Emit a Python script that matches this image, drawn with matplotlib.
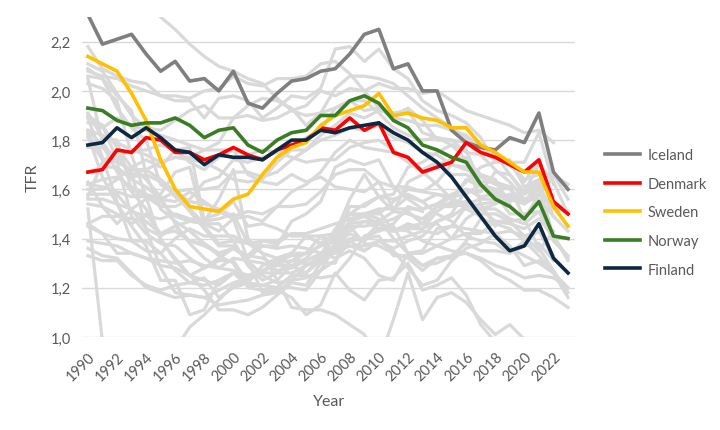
import numpy as np
import matplotlib.pyplot as plt

years = list(range(1990, 2024))
N = None

# highlighted Nordic countries
iceland = [2.31, 2.19, 2.21, 2.23, 2.15, 2.08, 2.12, 2.04, 2.05, 2.00, 2.08, 1.95, 1.93, 1.99, 2.04, 2.05, 2.08, 2.09,
           2.15, 2.23, 2.25, 2.09, 2.11, 2.00, 2.00, 1.84, 1.79, 1.77, 1.76, 1.81, 1.79, 1.91, 1.67, 1.60]
denmark = [1.67, 1.68, 1.76, 1.75, 1.81, 1.80, 1.75, 1.75, 1.72, 1.74, 1.77, 1.74, 1.72, 1.76, 1.78, 1.80, 1.85, 1.84,
           1.89, 1.84, 1.87, 1.75, 1.73, 1.67, 1.69, 1.71, 1.79, 1.75, 1.73, 1.70, 1.67, 1.72, 1.55, 1.50]
sweden = [2.14, 2.11, 2.08, 1.99, 1.88, 1.72, 1.60, 1.53, 1.52, 1.51, 1.56, 1.58, 1.66, 1.73, 1.77, 1.79, 1.86, 1.90,
          1.92, 1.94, 1.99, 1.90, 1.91, 1.89, 1.88, 1.85, 1.85, 1.78, 1.75, 1.71, 1.67, 1.67, 1.53, 1.45]
norway = [1.93, 1.92, 1.88, 1.86, 1.87, 1.87, 1.89, 1.86, 1.81, 1.84, 1.85, 1.78, 1.75, 1.80, 1.83, 1.84, 1.90, 1.90,
          1.96, 1.98, 1.95, 1.88, 1.85, 1.78, 1.76, 1.73, 1.71, 1.62, 1.56, 1.53, 1.48, 1.55, 1.41, 1.40]
finland = [1.78, 1.79, 1.85, 1.81, 1.85, 1.81, 1.76, 1.75, 1.70, 1.74, 1.73, 1.73, 1.72, 1.76, 1.80, 1.80, 1.84, 1.83,
           1.85, 1.86, 1.87, 1.83, 1.80, 1.75, 1.71, 1.65, 1.57, 1.49, 1.41, 1.35, 1.37, 1.46, 1.32, 1.26]

# other countries (background)
austria = [1.46, 1.49, 1.49, 1.48, 1.47, 1.42, 1.45, 1.39, 1.37, 1.34, 1.36, 1.33, 1.39, 1.38, 1.42, 1.41, 1.41, 1.38,
           1.42, 1.39, 1.44, 1.43, 1.44, 1.44, 1.47, 1.49, 1.53, 1.52, 1.47, 1.46, 1.44, 1.48, 1.41, 1.32]
belgium = [1.62, 1.64, 1.65, 1.61, 1.58, 1.56, 1.59, 1.60, 1.60, 1.61, 1.67, 1.67, 1.65, 1.67, 1.72, 1.76, 1.80, 1.82,
           1.85, 1.84, 1.86, 1.81, 1.79, 1.75, 1.74, 1.70, 1.68, 1.65, 1.62, 1.60, 1.55, 1.60, 1.53, N]
bulgaria = [1.82, 1.65, 1.54, 1.45, 1.37, 1.23, 1.23, 1.09, 1.11, 1.23, 1.26, 1.21, 1.21, 1.23, 1.29, 1.32, 1.38, 1.42,
            1.56, 1.66, 1.57, 1.51, 1.50, 1.48, 1.53, 1.53, 1.54, 1.56, 1.56, 1.58, 1.56, 1.58, 1.65, N]
croatia = [1.63, 1.53, 1.46, 1.52, 1.56, 1.58, 1.67, 1.69, 1.45, 1.38, 1.39, 1.38, 1.34, 1.32, 1.34, 1.41, 1.38, 1.40,
           1.47, 1.49, 1.46, 1.48, 1.51, 1.46, 1.46, 1.40, 1.42, 1.42, 1.47, 1.47, 1.48, 1.58, 1.53, N]
czechia = [1.90, 1.86, 1.72, 1.67, 1.44, 1.28, 1.18, 1.17, 1.16, 1.13, 1.14, 1.15, 1.17, 1.18, 1.23, 1.29, 1.33, 1.44,
           1.50, 1.49, 1.51, 1.43, 1.45, 1.46, 1.53, 1.57, 1.63, 1.69, 1.71, 1.71, 1.71, 1.83, 1.62, N]
estonia = [2.05, 1.79, 1.71, 1.49, 1.42, 1.38, 1.37, 1.32, 1.28, 1.32, 1.36, 1.32, 1.37, 1.37, 1.47, 1.50, 1.55, 1.69,
           1.72, 1.70, 1.72, 1.61, 1.56, 1.52, 1.54, 1.58, 1.60, 1.59, 1.67, 1.66, 1.58, 1.61, 1.41, 1.31]
france = [1.77, 1.77, 1.73, 1.66, 1.68, 1.71, 1.73, 1.73, 1.76, 1.79, 1.89, 1.90, 1.88, 1.89, 1.92, 1.94, 2.00, 1.98,
          2.01, 2.00, 2.03, 2.01, 2.01, 1.99, 2.00, 1.96, 1.92, 1.90, 1.88, 1.86, 1.83, 1.84, 1.79, N]
germany_w = [1.45, 1.42, 1.40, 1.39, 1.35, 1.34, 1.40, 1.44, 1.41, 1.41, 1.41, 1.38, 1.37, 1.36, 1.37, 1.36, 1.34, 1.37,
             1.37, 1.35, 1.39, 1.36, 1.39, 1.41, 1.47, 1.50, 1.60, 1.57, 1.58, 1.56, 1.54, 1.58, N, N]
germany_e = [1.52, 0.98, 0.83, 0.77, 0.77, 0.84, 0.95, 1.04, 1.09, 1.15, 1.21, 1.23, 1.26, 1.26, 1.31, 1.30, 1.30, 1.37,
             1.40, 1.40, 1.46, 1.43, 1.46, 1.44, 1.51, 1.55, 1.64, 1.61, 1.60, 1.56, 1.55, 1.58, N, N]
greece = [1.39, 1.38, 1.37, 1.34, 1.32, 1.31, 1.30, 1.31, 1.29, 1.28, 1.27, 1.25, 1.27, 1.30, 1.31, 1.34, 1.41, 1.42,
          1.50, 1.50, 1.48, 1.40, 1.34, 1.29, 1.30, 1.33, 1.38, 1.35, 1.35, 1.34, 1.39, 1.43, 1.32, 1.26]
hungary = [1.87, 1.86, 1.77, 1.69, 1.64, 1.57, 1.46, 1.38, 1.32, 1.28, 1.32, 1.31, 1.30, 1.27, 1.28, 1.31, 1.34, 1.32,
           1.35, 1.32, 1.25, 1.23, 1.34, 1.35, 1.44, 1.45, 1.53, 1.54, 1.55, 1.55, 1.59, 1.61, 1.52, 1.51]
ireland = [2.11, 2.08, 1.99, 1.90, 1.85, 1.84, 1.88, 1.92, 1.94, 1.89, 1.89, 1.94, 1.97, 1.96, 1.93, 1.86, 1.91, 2.01,
           2.06, 2.06, 2.05, 2.03, 1.98, 1.93, 1.89, 1.85, 1.81, 1.77, 1.75, 1.70, 1.63, 1.72, 1.54, 1.50]
italy = [1.33, 1.31, 1.31, 1.25, 1.21, 1.19, 1.21, 1.22, 1.21, 1.23, 1.26, 1.25, 1.27, 1.29, 1.34, 1.34, 1.37, 1.40,
         1.45, 1.45, 1.46, 1.44, 1.43, 1.39, 1.37, 1.35, 1.34, 1.32, 1.29, 1.27, 1.24, 1.25, 1.24, 1.20]
lithuania = [2.03, 2.01, 1.96, 1.74, 1.57, 1.55, 1.49, 1.47, 1.46, 1.46, 1.39, 1.29, 1.23, 1.26, 1.26, 1.29, 1.32, 1.36,
             1.47, 1.50, 1.50, 1.55, 1.60, 1.59, 1.63, 1.70, 1.69, 1.63, 1.63, 1.61, 1.48, 1.36, 1.27, 1.18]
luxembourg = [1.60, 1.60, 1.64, 1.69, 1.72, 1.69, 1.76, 1.71, 1.68, 1.73, 1.76, 1.66, 1.63, 1.62, 1.66, 1.63, 1.65, 1.61,
              1.60, 1.59, 1.63, 1.52, 1.57, 1.55, 1.50, 1.47, 1.41, 1.39, 1.38, 1.34, 1.37, 1.38, 1.31, N]
netherlands = [1.62, 1.61, 1.59, 1.57, 1.57, 1.53, 1.53, 1.56, 1.63, 1.65, 1.72, 1.71, 1.73, 1.75, 1.73, 1.71, 1.72, 1.72,
               1.77, 1.79, 1.80, 1.76, 1.72, 1.68, 1.71, 1.66, 1.66, 1.62, 1.59, 1.57, 1.55, 1.62, 1.49, 1.43]
poland = [2.06, 2.05, 1.93, 1.85, 1.80, 1.62, 1.58, 1.51, 1.44, 1.37, 1.37, 1.31, 1.25, 1.22, 1.23, 1.24, 1.27, 1.31,
          1.39, 1.40, 1.41, 1.33, 1.33, 1.29, 1.32, 1.32, 1.39, 1.48, 1.46, 1.44, 1.39, 1.33, 1.26, 1.16]
portugal = [1.56, 1.56, 1.54, 1.52, 1.44, 1.41, 1.45, 1.47, 1.48, 1.50, 1.55, 1.45, 1.46, 1.44, 1.41, 1.41, 1.38, 1.35,
            1.39, 1.35, 1.39, 1.35, 1.28, 1.21, 1.23, 1.31, 1.36, 1.38, 1.42, 1.43, 1.41, 1.35, 1.43, N]
slovakia = [2.09, 2.05, 1.98, 1.92, 1.66, 1.52, 1.47, 1.43, 1.38, 1.33, 1.30, 1.20, 1.19, 1.20, 1.25, 1.25, 1.24, 1.25,
            1.32, 1.41, 1.43, 1.45, 1.34, 1.34, 1.37, 1.40, 1.48, 1.52, 1.54, 1.57, 1.59, 1.63, 1.57, N]
slovenia = [1.46, 1.42, 1.34, 1.34, 1.32, 1.29, 1.28, 1.25, 1.23, 1.21, 1.26, 1.21, 1.21, 1.20, 1.25, 1.26, 1.31, 1.38,
            1.53, 1.53, 1.57, 1.56, 1.58, 1.55, 1.58, 1.57, 1.58, 1.62, 1.60, 1.61, 1.59, 1.64, 1.55, 1.51]
spain = [1.36, 1.33, 1.32, 1.26, 1.20, 1.18, 1.16, 1.17, 1.16, 1.19, 1.22, 1.24, 1.26, 1.31, 1.33, 1.34, 1.37, 1.39,
         1.45, 1.38, 1.37, 1.34, 1.32, 1.27, 1.32, 1.33, 1.34, 1.31, 1.26, 1.23, 1.19, 1.19, 1.16, 1.12]
switzerland = [1.58, 1.58, 1.58, 1.51, 1.49, 1.48, 1.50, 1.48, 1.47, 1.48, 1.50, 1.38, 1.39, 1.39, 1.42, 1.42, 1.44, 1.46,
               1.48, 1.50, 1.52, 1.52, 1.52, 1.52, 1.54, 1.54, 1.55, 1.52, 1.52, 1.48, 1.46, 1.51, 1.39, 1.33]
uk = [1.84, 1.82, 1.79, 1.76, 1.74, 1.71, 1.73, 1.72, 1.71, 1.68, 1.64, 1.63, 1.64, 1.71, 1.76, 1.76, 1.82, 1.86,
      1.91, 1.89, 1.92, 1.91, 1.92, 1.83, 1.81, 1.80, 1.79, 1.74, 1.68, 1.63, 1.56, 1.56, 1.49, N]
scotland = [1.67, 1.69, 1.69, 1.64, 1.61, 1.56, 1.55, 1.59, 1.55, 1.51, 1.48, 1.49, 1.47, 1.53, 1.59, 1.62, 1.67, 1.75,
            1.80, 1.77, 1.76, 1.75, 1.71, 1.67, 1.62, 1.56, 1.52, 1.49, 1.42, 1.37, 1.29, 1.31, 1.26, N]
russia = [1.89, 1.73, 1.55, 1.39, 1.39, 1.34, 1.27, 1.22, 1.24, 1.16, 1.20, 1.22, 1.29, 1.32, 1.34, 1.29, 1.31, 1.42,
          1.50, 1.54, 1.57, 1.58, 1.69, 1.71, 1.75, 1.78, 1.76, 1.62, 1.58, 1.50, 1.50, 1.51, N, N]
ukraine = [1.84, 1.78, 1.67, 1.59, 1.52, 1.40, 1.31, 1.25, 1.19, 1.11, 1.11, 1.09, 1.12, 1.17, 1.22, 1.21, 1.30, 1.30,
           1.46, 1.47, 1.44, 1.46, 1.53, 1.51, N, N, N, N, N, N, N, N, N, N]
belarus = [1.91, 1.81, 1.80, 1.60, 1.57, 1.39, 1.32, 1.25, 1.28, 1.31, 1.31, 1.22, 1.21, 1.20, 1.20, 1.19, 1.27, 1.37,
           1.43, 1.47, 1.47, 1.51, 1.63, 1.66, 1.70, 1.72, 1.73, 1.54, 1.45, N, N, N, N, N]
usa = [2.08, 2.06, 2.05, 2.02, 2.00, 1.98, 1.98, 1.97, 2.00, 2.01, 2.06, 2.03, 2.02, 2.05, 2.05, 2.06, 2.11, 2.12,
       2.07, 2.00, 1.93, 1.89, 1.88, 1.86, 1.86, 1.84, 1.82, 1.77, 1.73, 1.71, 1.64, 1.66, 1.66, 1.62]
canada = [1.83, 1.72, 1.71, 1.68, 1.68, 1.64, 1.59, 1.55, 1.54, 1.52, 1.49, 1.51, 1.50, 1.53, 1.53, 1.54, 1.59, 1.66,
          1.68, 1.68, 1.63, 1.61, 1.61, 1.59, 1.58, 1.56, 1.54, 1.50, 1.50, 1.47, 1.41, 1.43, 1.33, N]
australia = [1.90, 1.85, 1.89, 1.86, 1.84, 1.82, 1.80, 1.78, 1.76, 1.76, 1.76, 1.74, 1.76, 1.75, 1.77, 1.81, 1.84, 1.93,
             1.96, 1.92, 1.93, 1.90, 1.93, 1.88, 1.80, 1.80, 1.75, 1.74, 1.74, 1.66, 1.59, 1.70, 1.63, 1.50]
new_zealand = [2.18, 2.09, 2.06, 2.04, 2.03, 1.98, 1.96, 1.96, 1.89, 1.97, 1.98, 1.96, 1.89, 1.93, 1.98, 1.97, 2.01, 2.17,
               2.18, 2.12, 2.17, 2.09, 2.05, 1.96, 1.92, 1.90, 1.87, 1.81, 1.71, 1.72, 1.61, 1.64, 1.66, 1.56]
chile = [2.60, 2.55, 2.50, 2.44, 2.37, 2.30, 2.25, 2.19, 2.14, 2.10, 2.08, 2.05, 2.03, 1.97, 1.92, 1.90, 1.91, 1.93,
         1.96, 1.96, 1.91, 1.85, 1.82, 1.80, 1.81, 1.78, 1.72, 1.66, 1.64, 1.54, N, N, N, N]
japan = [1.54, 1.53, 1.50, 1.46, 1.50, 1.42, 1.43, 1.39, 1.38, 1.34, 1.36, 1.33, 1.32, 1.29, 1.29, 1.26, 1.32, 1.34,
         1.37, 1.37, 1.39, 1.39, 1.41, 1.43, 1.42, 1.45, 1.44, 1.43, 1.42, 1.36, 1.33, 1.30, 1.26, 1.20]
korea = [1.57, 1.71, 1.76, 1.65, 1.66, 1.63, 1.57, 1.52, 1.46, 1.43, 1.48, 1.31, 1.18, 1.19, 1.16, 1.09, 1.13, 1.26,
         1.19, 1.15, 1.23, 1.24, 1.30, 1.19, 1.21, 1.24, 1.17, 1.05, 0.98, 0.92, 0.84, 0.81, 0.78, 0.72]
taiwan = [1.81, 1.72, 1.73, 1.76, 1.76, 1.78, 1.76, 1.77, 1.47, 1.56, 1.68, 1.40, 1.34, 1.23, 1.12, 1.11, 1.11, 1.09,
          1.05, 1.01, 0.90, 1.07, 1.26, 1.07, 1.16, 1.18, 1.14, 1.07, 1.01, 1.05, 0.99, 0.98, 0.87, 0.87]

others = [austria, belgium, bulgaria, croatia, czechia, estonia, france, germany_w, germany_e, greece, hungary,
          ireland, italy, lithuania, luxembourg, netherlands, poland, portugal, slovakia, slovenia, spain,
          switzerland, uk, scotland, russia, ukraine, belarus, usa, canada, australia, new_zealand, chile,
          japan, korea, taiwan]

nordic = ["Iceland", "Denmark", "Sweden", "Norway", "Finland"]
nordic_values = [iceland, denmark, sweden, norway, finland]
nordic_colors = ["#7f7f7f", "#ff0000", "#ffc000", "#3a7d22", "#0e2841"]

plt.rcParams['font.family'] = ['Lato', 'DejaVu Sans']

fig = plt.figure(figsize=(7.2, 4.31), dpi=100)
ax = fig.add_axes([0.114, 0.216, 0.685, 0.742])

for vals in others:
    ax.plot(years, np.array(vals, dtype=float), color="#d9d9d9", lw=2.3, zorder=2)

handles = []
for name, vals, col in zip(nordic, nordic_values, nordic_colors):
    h, = ax.plot(years, np.array(vals, dtype=float), color=col, lw=2.6, label=name, zorder=3)
    handles.append(h)

ax.set_xlim(1989.6, 2023.5)
ax.set_ylim(1.0, 2.3)
ax.set_yticks(np.arange(1.0, 2.21, 0.2))
ax.set_yticklabels([f"{v:.1f}".replace(".", ",") for v in np.arange(1.0, 2.21, 0.2)])
ax.set_xticks(years[::2])
ax.set_xticklabels([str(y) for y in years[::2]], rotation=45, ha="right", va="top",
                   rotation_mode="anchor")
ax.tick_params(axis="y", length=0, labelsize=10.5, colors="#595959", pad=8)
ax.tick_params(axis="x", length=0, labelsize=10.5, colors="#595959", pad=9)
ax.grid(axis="y", color="#d9d9d9", lw=1, zorder=0)
ax.set_axisbelow(True)
for s in ax.spines.values():
    s.set_visible(False)

ax.set_xlabel("Year", fontsize=11.5, color="#595959", labelpad=8)
ax.set_ylabel("TFR", fontsize=11.5, color="#595959", labelpad=8)

fig.legend(handles=handles, loc="center left", bbox_to_anchor=(0.84, 0.505), frameon=False,
           fontsize=10.5, labelcolor="#595959", handlelength=2.4, handletextpad=0.55,
           labelspacing=1.0, borderpad=0, borderaxespad=0)

fig.savefig("out.png", dpi=100)
